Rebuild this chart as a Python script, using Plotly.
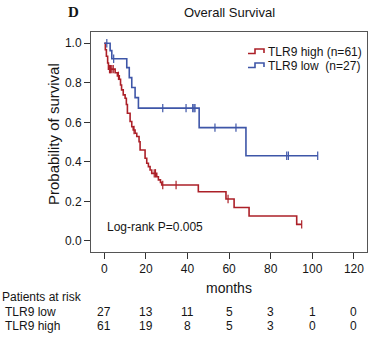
import numpy as np
import plotly.graph_objects as go

# ---- data ----
high_times = [0, 0.5, 1.0, 1.6, 2.0, 5.2, 6.3, 7.2, 7.8, 8.3, 9.1, 10.0, 10.6, 11.1, 12.4, 13.2,
              13.9, 14.8, 15.6, 16.7, 17.2, 19.6, 20.4, 21.2, 22.0, 22.8, 25.2, 26.0, 27.0, 27.6,
              45.2, 58.5, 62.4, 69.6, 92.5]
high_surv = [1.0, 0.967, 0.934, 0.90, 0.869, 0.851, 0.835, 0.818, 0.789, 0.764, 0.739, 0.722, 0.69,
             0.646, 0.604, 0.578, 0.561, 0.545, 0.528, 0.502, 0.46, 0.418, 0.393, 0.376, 0.359,
             0.342, 0.325, 0.309, 0.296, 0.283, 0.249, 0.212, 0.169, 0.126, 0.084]
high_end = 94.9
high_censor = [2.5, 3.0, 3.6, 4.3, 6.8, 14.3, 24.0, 24.6, 28.1, 34.5, 59.5, 94.9]

low_times = [0, 2.8, 3.6, 10.8, 12.0, 13.2, 14.8, 16.4, 45.6, 68.1]
low_surv = [1.0, 0.963, 0.922, 0.877, 0.826, 0.776, 0.725, 0.672, 0.573, 0.431]
low_end = 102.6
low_censor = [1.2, 4.5, 28.1, 39.3, 42.5, 43.1, 43.6, 53.2, 63.3, 87.7, 88.5, 102.6]

risk_times = [0, 20, 40, 60, 80, 100, 120]
risk_low = [27, 13, 11, 5, 3, 1, 0]
risk_high = [61, 19, 8, 5, 3, 0, 0]

x_ticks = [0, 20, 40, 60, 80, 100, 120]
y_ticks = [0.0, 0.2, 0.4, 0.6, 0.8, 1.0]

title_text = "Overall Survival"
panel_label = "D"
legend_high = "TLR9 high (n=61)"
legend_low = "TLR9 low\u00a0\u00a0(n=27)"
pvalue_text = "Log-rank P=0.005"

RED = "rgb(172,32,40)"
BLUE = "rgb(62,86,168)"
FONT = "Liberation Sans, Arial, sans-serif"
TXT = "#151515"

W, H = 372, 338
PLOT_L, PLOT_R, PLOT_T, PLOT_B = 91, 367, 32, 252  # pixel box of the plotting area
L, T = PLOT_L, PLOT_T
R, B = W - PLOT_R, H - PLOT_B
PW, PH = PLOT_R - PLOT_L, PLOT_B - PLOT_T


def px(xp):
    return (xp - PLOT_L) / PW


def py(yp):
    return (PLOT_B - yp) / PH


def level_at(times, surv, t):
    i = np.searchsorted(np.array(times), t, side="right") - 1
    return surv[i]


fig = go.Figure()
for times, surv, end, cens, col in [
    (high_times, high_surv, high_end, high_censor, RED),
    (low_times, low_surv, low_end, low_censor, BLUE),
]:
    xs = list(times) + [end]
    ys = list(surv) + [surv[-1]]
    fig.add_trace(go.Scatter(x=xs, y=ys, mode="lines", line=dict(color=col, width=1.6, shape="hv"),
                             showlegend=False, hoverinfo="skip"))
    cy = [level_at(times, surv, c) for c in cens]
    fig.add_trace(go.Scatter(x=cens, y=cy, mode="markers",
                             marker=dict(symbol="line-ns", size=6, line=dict(color=col, width=1.2)),
                             showlegend=False, hoverinfo="skip"))


def txt(text, x, y, size=12, xref="paper", yref="paper", xanchor="center", family=FONT, **kw):
    return dict(text=text, x=x, y=y, xref=xref, yref=yref, xanchor=xanchor, yanchor="middle",
                showarrow=False, font=dict(family=family, size=size, color=TXT), **kw)


ann = [
    txt(title_text, px(229), py(13), size=13),
    txt("<b>" + panel_label + "</b>", px(73), py(12), size=15,
        family="Liberation Serif, Times New Roman, serif"),
    txt("Probability of survival", px(53), py(134), size=15, textangle=-90),
    txt("months", 60, py(288), size=14, xref="x"),
    txt(pvalue_text, 0.3, 0.071, size=12, xref="x", yref="y", xanchor="left"),
    txt(legend_high, px(266), py(52), xanchor="left"),
    txt(legend_low, px(266), py(66), xanchor="left"),
    txt("Patients at risk", px(0), py(297), xanchor="left"),
    txt("TLR9 low", px(3), py(312), xanchor="left"),
    txt("TLR9 high", px(3), py(326), xanchor="left"),
]
for t, n in zip(risk_times, risk_low):
    ann.append(txt(str(n), t, py(312), xref="x"))
for t, n in zip(risk_times, risk_high):
    ann.append(txt(str(n), t, py(326), xref="x"))

shapes = []
for yoff, col in [(0, RED), (14, BLUE)]:
    pts = [(248, 53.5 + yoff), (255, 53.5 + yoff), (255, 49 + yoff), (264, 49 + yoff), (264, 53 + yoff)]
    path = "M " + " L ".join(f"{px(a):.4f},{py(b):.4f}" for a, b in pts)
    shapes.append(dict(type="path", path=path, xref="paper", yref="paper",
                       line=dict(color=col, width=1.6)))

fig.update_layout(
    width=W, height=H, margin=dict(l=L, r=R, t=T, b=B, autoexpand=False),
    paper_bgcolor="white", plot_bgcolor="white",
    annotations=ann, shapes=shapes, showlegend=False,
    font=dict(family=FONT, size=12, color=TXT),
)
fig.update_xaxes(range=[-6.4, 126.3], tickvals=x_ticks, ticks="outside", ticklen=6, tickcolor="#333",
                 showline=True, mirror=True, linecolor="#555", linewidth=1, showgrid=False, zeroline=False,
                 tickfont=dict(family=FONT, size=12, color=TXT), automargin=False)
fig.update_yaxes(range=[-0.056, 1.057], tickvals=y_ticks, tickformat=".1f", ticks="outside", ticklen=6,
                 tickcolor="#333", showline=True, mirror=True, linecolor="#555", linewidth=1,
                 showgrid=False, zeroline=False, tickfont=dict(family=FONT, size=12, color=TXT),
                 automargin=False)

fig.write_html("out.html", config={"displayModeBar": False},
               post_script="document.body.style.margin='0';")
